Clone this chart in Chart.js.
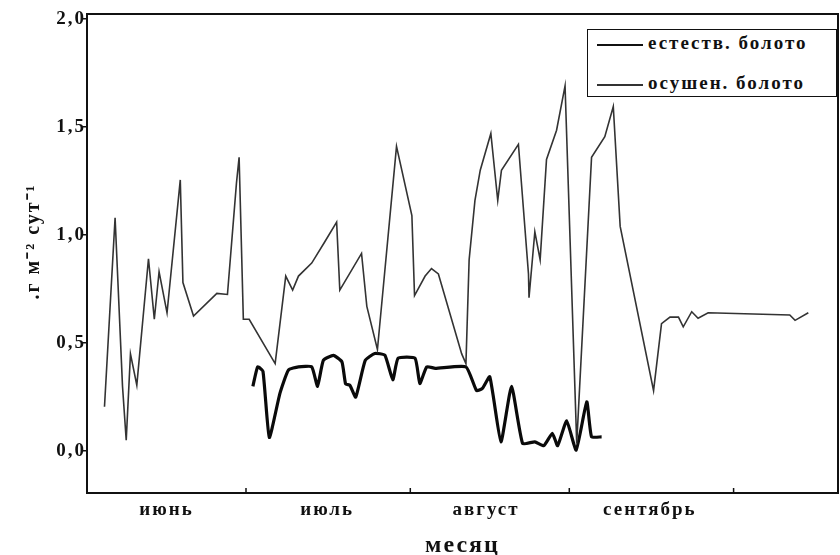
<!DOCTYPE html>
<html>
<head>
<meta charset="utf-8">
<script src="https://cdn.jsdelivr.net/npm/chart.js@4"></script>
<style>
  body { margin: 0; background: #fff; }
  #wrap { position: relative; width: 840px; height: 555px; }
  #legend {
    position: absolute; left: 587px; top: 29px; width: 250px; height: 68px;
    border: 1.5px solid #111; box-sizing: border-box; background: #fff;
    font: bold 19px "Liberation Serif", serif; color: #111; letter-spacing: 2px;
  }
  #legend .row { position: absolute; left: 9px; height: 20px; line-height: 20px; white-space: nowrap; }
  #legend .sample { display: inline-block; width: 46px; vertical-align: middle; margin-right: 5px; }
</style>
</head>
<body>
<div id="wrap">
  <canvas id="chart" width="840" height="555"></canvas>
  <div id="legend">
    <div class="row" style="top:3px"><span class="sample" style="border-top:2px solid #111"></span>естеств. болото</div>
    <div class="row" style="top:43px"><span class="sample" style="border-top:2px solid #333"></span>осушен. болото</div>
  </div>
</div>
<script>
// days counted from 1 June
const months = ['июнь', 'июль', 'август', 'сентябрь'];
const monthMid = [15, 45.3, 75.3, 106.2];
const monthEdges = [30, 61, 91, 122];
const yTicks = [0, 0.5, 1.0, 1.5, 2.0];

// естеств. болото (thin line)
const natDays = [3.3, 5.3, 6.7, 7.4, 8.2, 9.4, 11.6, 12.7, 13.6, 15.1, 17.6, 18.1, 20.1, 24.5, 26.5,
  28.2, 28.7, 29.5, 30.6, 35.5, 37.5, 38.8, 39.9, 42.4, 44.9, 47.1, 47.7, 51.8, 52.8, 54.8,
  58.4, 61.3, 61.8, 63.8, 65.0, 66.3, 70.7, 71.5, 72.1, 73.2, 74.2, 76.2, 77.5, 78.2, 81.4,
  83.3, 83.4, 84.5, 85.5, 86.7, 88.6, 90.2, 92.4, 95.2, 97.7, 99.3, 100.6, 106.9, 108.4,
  110.0, 111.6, 112.5, 114.1, 115.3, 117.2, 132.6, 133.6, 136.1];
const natVals = [0.205, 1.08, 0.30, 0.05, 0.45, 0.305, 0.89, 0.61, 0.83, 0.64, 1.255, 0.78, 0.625, 0.73, 0.725,
  1.24, 1.36, 0.61, 0.61, 0.405, 0.81, 0.745, 0.81, 0.87, 0.97, 1.06, 0.745, 0.915, 0.67, 0.47,
  1.41, 1.09, 0.72, 0.81, 0.845, 0.82, 0.45, 0.405, 0.885, 1.16, 1.30, 1.47, 1.16, 1.30, 1.42,
  0.82, 0.71, 1.015, 0.885, 1.35, 1.485, 1.69, 0.035, 1.36, 1.455, 1.595, 1.04, 0.28, 0.59,
  0.62, 0.62, 0.575, 0.645, 0.615, 0.64, 0.63, 0.605, 0.64];

// осушен. болото (thick line)
const drainDays = [31.3, 32.2, 33.2, 34.4, 36.4, 38.0, 39.9, 42.4, 43.5, 44.6, 46.5, 48.1, 48.8, 49.6,
  50.7, 52.5, 54.3, 56.2, 57.7, 58.7, 61.9, 62.8, 64.1, 65.7, 71.5, 73.5, 74.6, 76.0, 78.1,
  80.1, 82.2, 84.5, 86.2, 87.8, 88.8, 90.5, 92.3, 94.3, 95.2, 97.1];
const drainVals = [0.30, 0.39, 0.37, 0.063, 0.267, 0.375, 0.39, 0.39, 0.30, 0.42, 0.443, 0.413, 0.31, 0.305,
  0.25, 0.42, 0.452, 0.444, 0.33, 0.43, 0.43, 0.313, 0.39, 0.383, 0.39, 0.28, 0.29, 0.344, 0.043,
  0.30, 0.035, 0.043, 0.025, 0.082, 0.025, 0.14, 0.005, 0.228, 0.066, 0.066];

const serif = '"Liberation Serif", "Times New Roman", serif';

function toPoints(xs, ys) {
  return xs.map((x, i) => ({ x: x, y: ys[i] }));
}

// frame round the plot and short month marks on the bottom axis
const framePlugin = {
  id: 'frame',
  beforeDraw(chart) {
    // the scanned original is a bit wider, so spread the letters
    chart.ctx.letterSpacing = '2px';
  },
  afterDraw(chart) {
    const { ctx, chartArea: a, scales } = chart;
    ctx.save();
    ctx.strokeStyle = '#111';
    ctx.lineWidth = 2;
    ctx.strokeRect(a.left, a.top, a.right - a.left, a.bottom - a.top);
    ctx.lineWidth = 1.5;
    monthEdges.forEach(d => {
      const px = scales.x.getPixelForValue(d);
      ctx.beginPath();
      ctx.moveTo(px, a.bottom);
      ctx.lineTo(px, a.bottom - 5);
      ctx.stroke();
    });
    ctx.restore();
  }
};

new Chart(document.getElementById('chart'), {
  type: 'line',
  data: {
    datasets: [
      {
        label: 'естеств. болото',
        data: toPoints(natDays, natVals),
        borderColor: '#333333',
        borderWidth: 1.6,
        pointRadius: 0,
        tension: 0
      },
      {
        label: 'осушен. болото',
        data: toPoints(drainDays, drainVals),
        borderColor: '#0a0a0a',
        borderWidth: 3.2,
        pointRadius: 0,
        tension: 0.15,
        borderJoinStyle: 'round'
      }
    ]
  },
  options: {
    responsive: false,
    animation: false,
    devicePixelRatio: 1,
    layout: { padding: { top: 14, right: 2, left: 0, bottom: 0 } },
    plugins: {
      legend: { display: false },
      tooltip: { enabled: false }
    },
    scales: {
      x: {
        type: 'linear',
        min: 0,
        max: 141.7,
        afterFit: s => { s.height = 62; },
        afterBuildTicks: s => { s.ticks = monthMid.map(v => ({ value: v })); },
        ticks: {
          callback: (v, i) => months[i],
          color: '#111',
          padding: 6,
          maxRotation: 0,
          font: { family: serif, size: 19, weight: 'bold' }
        },
        grid: { display: false, drawTicks: false },
        border: { display: false },
        title: {
          display: true,
          text: 'месяц',
          color: '#111',
          padding: { top: 0, bottom: -5 },
          font: { family: serif, size: 24, weight: 'bold' }
        }
      },
      y: {
        min: -0.194,
        max: 2.023,
        afterFit: s => { s.width = 87; },
        afterBuildTicks: s => { s.ticks = yTicks.map(v => ({ value: v })); },
        ticks: {
          callback: v => v.toFixed(1).replace('.', ','),
          color: '#111',
          padding: -3,
          font: { family: serif, size: 19, weight: 'bold' }
        },
        grid: { drawOnChartArea: false, drawTicks: true, tickLength: 4, color: '#111', lineWidth: 1.5 },
        border: { display: false },
        title: {
          display: true,
          // two leading en spaces lift the title a little, as in the original
          text: '\u2002\u2002.г м⁻² сут⁻¹',
          color: '#111',
          padding: { top: 22, bottom: 0 },
          font: { family: serif, size: 20, weight: 'bold' }
        }
      }
    }
  },
  plugins: [framePlugin]
});
</script>
</body>
</html>
